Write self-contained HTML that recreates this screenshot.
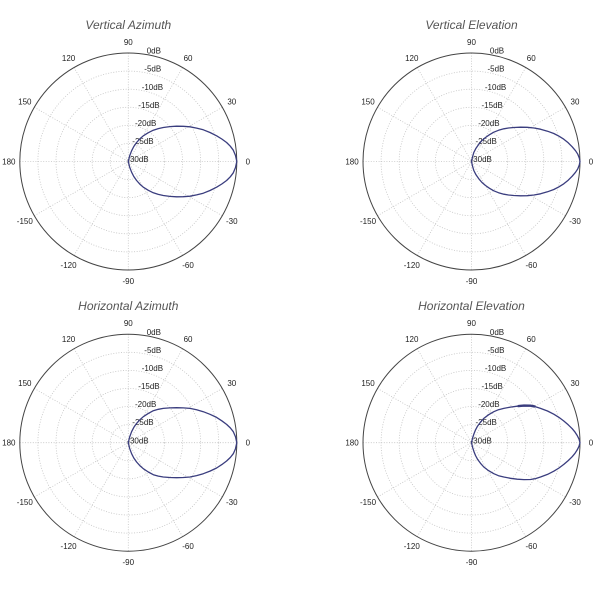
<!DOCTYPE html>
<html>
<head>
<meta charset="utf-8">
<style>
html,body{margin:0;padding:0;background:#fff;}
svg{display:block;}
.title{font-family:"Liberation Sans",sans-serif;font-style:italic;font-size:12px;fill:#555;}
.tk{font-family:"Liberation Sans",sans-serif;font-size:8px;fill:#222;}
.grid{fill:none;stroke:#c4c4c4;stroke-width:0.8;stroke-dasharray:1 1.6;}
.outer{fill:none;stroke:#444;stroke-width:1;}
.curve{fill:none;stroke:#3a3d7e;stroke-width:1.3;stroke-linejoin:round;}
</style>
</head>
<body>
<svg width="600" height="600" viewBox="0 0 600 600" xmlns="http://www.w3.org/2000/svg">
<defs>
  <g id="axes">
    <circle class="grid" r="18.08"/>
    <circle class="grid" r="36.17"/>
    <circle class="grid" r="54.25"/>
    <circle class="grid" r="72.33"/>
    <circle class="grid" r="90.42"/>
    <line class="grid" x1="-108.5" y1="0" x2="108.5" y2="0"/>
    <line class="grid" x1="0" y1="-108.5" x2="0" y2="108.5"/>
    <line class="grid" x1="-93.96" y1="54.25" x2="93.96" y2="-54.25"/>
    <line class="grid" x1="-93.96" y1="-54.25" x2="93.96" y2="54.25"/>
    <line class="grid" x1="-54.25" y1="93.96" x2="54.25" y2="-93.96"/>
    <line class="grid" x1="-54.25" y1="-93.96" x2="54.25" y2="93.96"/>
    <circle class="outer" r="108.5"/>
    <g class="tk" text-anchor="middle">
      <text x="119.5" y="0" dy="0.35em">0</text>
      <text x="103.5" y="-59.75" dy="0.35em">30</text>
      <text x="59.75" y="-103.5" dy="0.35em">60</text>
      <text x="0" y="-119.5" dy="0.35em">90</text>
      <text x="-59.75" y="-103.5" dy="0.35em">120</text>
      <text x="-103.5" y="-59.75" dy="0.35em">150</text>
      <text x="-119.5" y="0" dy="0.35em">180</text>
      <text x="-103.5" y="59.75" dy="0.35em">-150</text>
      <text x="-59.75" y="103.5" dy="0.35em">-120</text>
      <text x="0" y="119.5" dy="0.35em">-90</text>
      <text x="59.75" y="103.5" dy="0.35em">-60</text>
      <text x="103.5" y="59.75" dy="0.35em">-30</text>
    </g>
    <g class="tk">
      <text x="18.4" y="-107.8">0dB</text>
      <text x="16" y="-89.8">-5dB</text>
      <text x="13.4" y="-71.7">-10dB</text>
      <text x="10" y="-53.6">-15dB</text>
      <text x="6.7" y="-35.5">-20dB</text>
      <text x="4" y="-17.5">-25dB</text>
      <text x="-1" y="0.6">-30dB</text>
    </g>
  </g>
</defs>

<!-- Top-left -->
<text class="title" x="128.3" y="29" text-anchor="middle">Vertical Azimuth</text>
<g transform="translate(128.3,161.5)">
  <use href="#axes"/>
  <path class="curve" d="M0,0 L1.3,-5.5 L3.3,-10.7 L5.5,-15 L8.3,-19 L11.5,-22.6 L15,-25.7 L20,-28.8 L25,-31.3 L30,-32.9 L35,-34 L41.5,-34.9 L48.3,-35.3 L55,-35.2 L61.7,-34.7 L68.3,-33.4 L75,-31.7 L81.7,-29 L88.3,-25.7 L93.5,-22.5 L98.3,-19 L102,-15.3 L105,-11.3 L107.2,-6 L108.5,0 L107.2,6 L105,11.3 L102,15.3 L98.3,19 L93.5,22.5 L88.3,25.7 L81.7,29 L75,31.7 L68.3,33.4 L61.7,34.7 L55,35.2 L48.3,35.3 L41.5,34.9 L35,34 L30,32.9 L25,31.3 L20,28.8 L15,25.7 L11.5,22.6 L8.3,19 L5.5,15 L3.3,10.7 L1.3,5.5 Z"/>
</g>

<!-- Top-right -->
<text class="title" x="471.5" y="29" text-anchor="middle">Vertical Elevation</text>
<g transform="translate(471.5,161.5)">
  <use href="#axes"/>
  <path class="curve" d="M0,0 L1,-4.5 L2.3,-9 L4.5,-13.3 L7.3,-17.3 L10.5,-21 L14,-24 L18,-26.8 L22.3,-29.3 L27,-31.2 L32.3,-32.7 L37,-33.5 L42.3,-34 L49,-34.3 L55.7,-34.2 L62.5,-33.5 L69,-32.3 L76,-30.3 L82.3,-28 L87.5,-25.3 L92.3,-22.3 L96.7,-18.7 L100.7,-14.7 L104,-10.8 L106.3,-7.3 L107.8,-3.5 L108.5,0 L107.8,3.5 L106.3,7.3 L104,10.8 L100.7,14.7 L96.7,18.7 L92.3,22.3 L87.5,25.3 L82.3,28 L76,30.3 L69,32.3 L62.5,33.5 L55.7,34.2 L49,34.3 L42.3,34 L37,33.5 L32.3,32.7 L27,31.2 L22.3,29.3 L18,26.8 L14,24 L10.5,21 L7.3,17.3 L4.5,13.3 L2.3,9 L1,4.5 Z"/>
</g>

<!-- Bottom-left -->
<text class="title" x="128.3" y="310" text-anchor="middle">Horizontal Azimuth</text>
<g transform="translate(128.3,442.7)">
  <use href="#axes"/>
  <path class="curve" d="M0,0 L1.3,-5.6 L3.3,-11 L5.5,-15.3 L8.3,-19.3 L11.5,-22.9 L15,-26 L20,-29.3 L25,-32 L30,-33.4 L35,-34.3 L41.5,-34.8 L48.3,-35 L55,-34.8 L61.7,-34.3 L68.3,-32.9 L75,-31 L81.7,-28.4 L88.3,-25.3 L93.5,-21.9 L98.3,-18.3 L102,-14.8 L105,-11 L107.2,-6 L108.5,0 L107.2,6 L105,11 L102,14.8 L98.3,18.3 L93.5,21.9 L88.3,25.3 L81.7,28.4 L75,31 L68.3,32.9 L61.7,34.3 L55,34.8 L48.3,35 L41.5,34.8 L35,34.3 L30,33.4 L25,32 L20,29.3 L15,26 L11.5,22.9 L8.3,19.3 L5.5,15.3 L3.3,11 L1.3,5.6 Z"/>
</g>

<!-- Bottom-right -->
<text class="title" x="471.5" y="310" text-anchor="middle">Horizontal Elevation</text>
<g transform="translate(471.5,442.7)">
  <use href="#axes"/>
  <path class="curve" d="M0,0 L1.1,-4.7 L2.5,-9 L4,-12.8 L6,-16.5 L9,-20.6 L12.3,-24.3 L17,-27.9 L22.3,-31 L27,-33 L32.3,-34.3 L39,-35.6 L45.7,-36.5 L52.5,-36.9 L59,-36.8 L64,-35.9 L69,-34.3 L76,-31.7 L82.3,-28.5 L87.5,-25.3 L92.3,-21.7 L96.7,-17.9 L100.7,-14 L103.5,-10.6 L105.7,-7.2 L107.5,-3.6 L108.5,0 L107.5,3.6 L105.7,7.2 L103.5,10.6 L100.7,14 L96.7,17.9 L92.3,21.7 L87.5,25.3 L82.3,28.5 L76,31.7 L69,34.3 L64,35.9 L59,36.8 L52.5,36.9 L45.7,36.5 L39,35.6 L32.3,34.3 L27,33 L22.3,31 L17,27.9 L12.3,24.3 L9,20.6 L6,16.5 L4,12.8 L2.5,9 L1.1,4.7 Z"/>
  <path fill="none" stroke="#3a3d7e" stroke-width="2.4" stroke-linecap="round" d="M47,-36.6 L52.5,-37.1 L59,-37 L63,-36.3"/>
</g>
</svg>
</body>
</html>
